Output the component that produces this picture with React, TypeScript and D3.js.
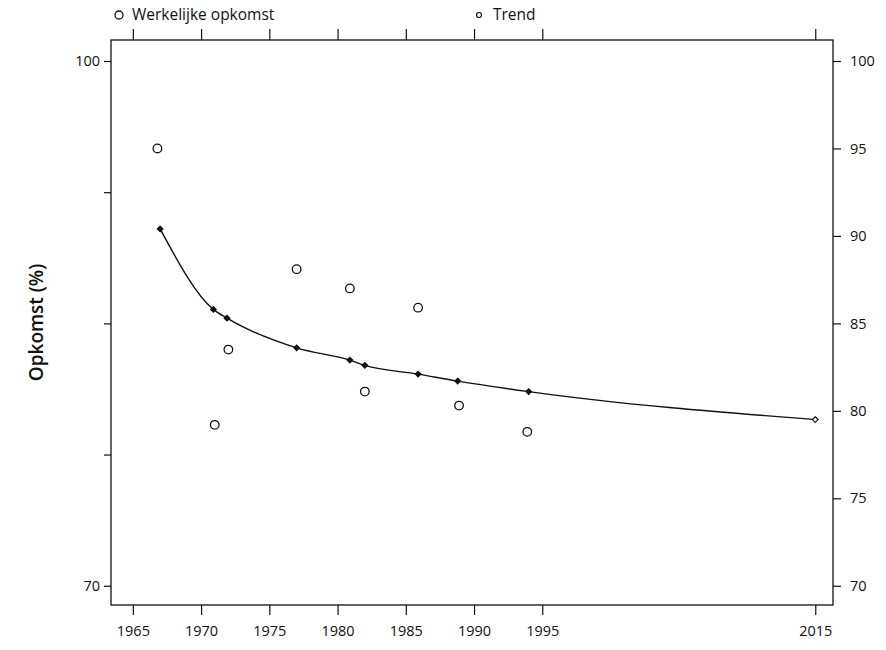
import * as d3 from 'd3'
import { useEffect, useRef } from 'react'

// werkelijke opkomst per verkiezingsjaar
const ACTUAL_YEARS = [1966.8, 1971, 1972, 1977, 1980.9, 1982, 1985.9, 1988.9, 1993.9]
const ACTUAL_VALUES = [95.0, 79.2, 83.5, 88.1, 87.0, 81.1, 85.9, 80.3, 78.8]

// trendlijn
const TREND_YEARS = [1967, 1970.9, 1971.9, 1977, 1980.9, 1982, 1985.9, 1988.8, 1994, 2015]
const TREND_VALUES = [90.4, 85.8, 85.3, 83.6, 82.9, 82.6, 82.1, 81.7, 81.1, 79.5]

const X_TICKS = [1965, 1970, 1975, 1980, 1985, 1990, 1995, 2015]
const Y_LEFT_TICKS = [100, 92.5, 85, 77.5, 70]
const Y_LEFT_LABELS = [100, 70]
const Y_RIGHT_TICKS = [100, 95, 90, 85, 80, 75, 70]

export default function App() {
  const ref = useRef<HTMLDivElement>(null)

  useEffect(() => {
    const width = 886
    const height = 650
    const left = 111
    const right = 833
    const top = 40
    const bottom = 605
    const font = '"Open Sans", Lato, sans-serif'

    const x = d3.scaleLinear().domain([1963.4, 2016.3]).range([left, right])
    const y = d3.scaleLinear().domain([68.9, 101.2]).range([bottom, top])

    const svg = d3
      .create('svg')
      .attr('width', width)
      .attr('height', height)
      .attr('viewBox', [0, 0, width, height])
      .attr('style', `position:absolute;left:0;top:0;background:white;font-family:${font}`)

    /* frame */
    svg
      .append('rect')
      .attr('x', left)
      .attr('y', top)
      .attr('width', right - left)
      .attr('height', bottom - top)
      .attr('fill', 'none')
      .attr('stroke', '#111')
      .attr('stroke-width', 1.3)

    /* axes */
    const fmtLeft = (d: d3.NumberValue) => (Y_LEFT_LABELS.includes(+d) ? String(d) : '')
    svg
      .append('g')
      .attr('transform', `translate(${left},0)`)
      .call(d3.axisLeft(y).tickValues(Y_LEFT_TICKS).tickSize(7).tickPadding(4).tickFormat(fmtLeft))
    svg
      .append('g')
      .attr('transform', `translate(${right},0)`)
      .call(d3.axisRight(y).tickValues(Y_RIGHT_TICKS).tickSize(8).tickPadding(9).tickFormat(d3.format('d')))
    svg
      .append('g')
      .attr('transform', `translate(0,${bottom})`)
      .call(d3.axisBottom(x).tickValues(X_TICKS).tickSize(10).tickPadding(11).tickFormat(d3.format('d')))
    svg
      .append('g')
      .attr('transform', `translate(0,${top})`)
      .call(d3.axisTop(x).tickValues(X_TICKS).tickSize(11).tickFormat(() => ''))

    svg.selectAll('.domain').remove()
    svg
      .selectAll('.tick line')
      .attr('stroke', '#111')
      .attr('stroke-width', 1.2)
    svg
      .selectAll('.tick text')
      .attr('font-family', font)
      .attr('font-size', 14.5)
      .attr('font-weight', 500)
      .attr('fill', '#111')

    /* y label */
    svg
      .append('text')
      .attr('transform', `translate(43,${(top + bottom) / 2}) rotate(-90)`)
      .attr('text-anchor', 'middle')
      .attr('font-size', 19)
      .attr('font-weight', 600)
      .attr('fill', '#111')
      .text('Opkomst (%)')

    /* trend line */
    const trend = TREND_YEARS.map((yr, i) => [yr, TREND_VALUES[i]] as [number, number])
    svg
      .append('path')
      .datum(trend)
      .attr('fill', 'none')
      .attr('stroke', '#111')
      .attr('stroke-width', 1.4)
      .attr(
        'd',
        d3
          .line<[number, number]>()
          .x((d) => x(d[0]))
          .y((d) => y(d[1]))
          .curve(d3.curveMonotoneX),
      )

    const diamond = d3.symbol(d3.symbolDiamond2, 20)
    svg
      .append('g')
      .selectAll()
      .data(trend)
      .join('path')
      .attr('transform', (d) => `translate(${x(d[0])},${y(d[1])})`)
      .attr('d', diamond)
      .attr('fill', (d, i) => (i === trend.length - 1 ? 'white' : '#111'))
      .attr('stroke', '#111')
      .attr('stroke-width', 1.2)

    /* actual turnout */
    svg
      .append('g')
      .selectAll()
      .data(ACTUAL_YEARS.map((yr, i) => [yr, ACTUAL_VALUES[i]]))
      .join('circle')
      .attr('cx', (d) => x(d[0]))
      .attr('cy', (d) => y(d[1]))
      .attr('r', 4.3)
      .attr('fill', 'white')
      .attr('stroke', '#111')
      .attr('stroke-width', 1.3)

    /* legend */
    const legend = svg.append('g').attr('font-size', 15.5).attr('font-weight', 500).attr('fill', '#111')
    legend
      .append('circle')
      .attr('cx', 119)
      .attr('cy', 15)
      .attr('r', 4)
      .attr('fill', 'white')
      .attr('stroke', '#111')
      .attr('stroke-width', 1.3)
    legend.append('text').attr('x', 132).attr('y', 20).text('Werkelijke opkomst')
    legend
      .append('circle')
      .attr('cx', 479)
      .attr('cy', 15)
      .attr('r', 2.5)
      .attr('fill', 'white')
      .attr('stroke', '#111')
      .attr('stroke-width', 1.2)
    legend.append('text').attr('x', 493).attr('y', 20).text('Trend')

    const node = svg.node()
    if (ref.current && node) {
      ref.current.innerHTML = ''
      ref.current.appendChild(node)
    }
  }, [])

  return <div ref={ref} />
}
